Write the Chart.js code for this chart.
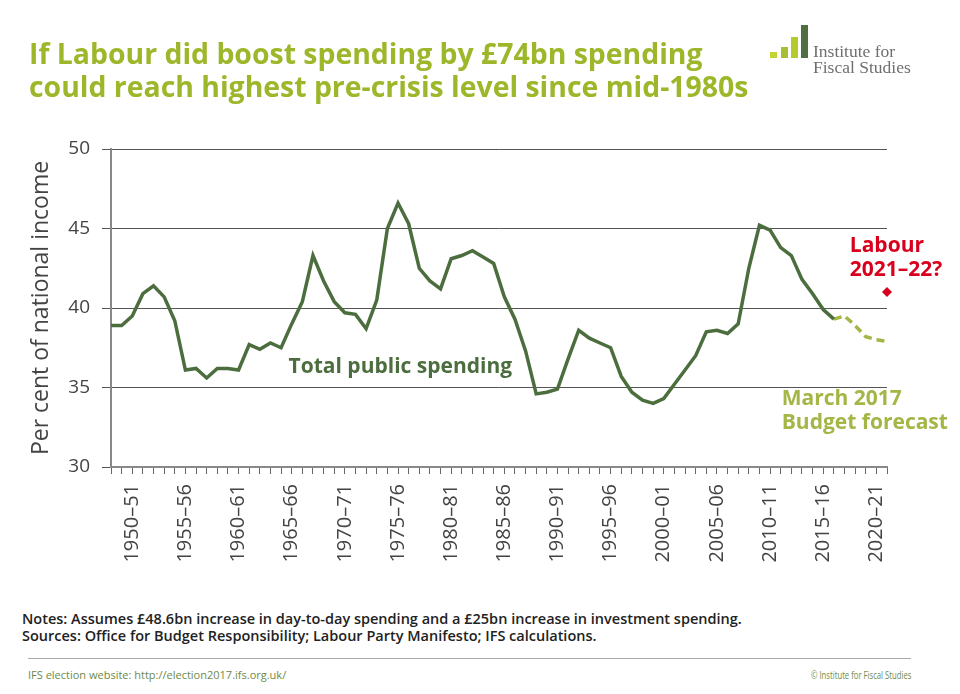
<!DOCTYPE html>
<html lang="en">
<head>
<meta charset="UTF-8">
<title>IFS - public spending</title>
<script src="https://cdn.jsdelivr.net/npm/chart.js"></script>
<style>
  body { margin: 0; background: #fff; width: 960px; height: 694px; overflow: hidden; position: relative; font-family: "Open Sans", sans-serif; }
  .title { position: absolute; left: 29px; top: 37px; color: #9cb72a; font-weight: 700; font-size: 28.4px; line-height: 33px; white-space: nowrap; }
  .logo div { position: absolute; }
  .logo .txt { left: 813px; top: 43px; font-family: "Liberation Serif", "DejaVu Serif", serif; font-size: 17.5px; line-height: 16px; color: #6f6f6f; }
  .wrap { position: absolute; left: 0; top: 0; width: 960px; height: 600px; }
  .notes { position: absolute; left: 22px; top: 610px; font-size: 14.5px; font-weight: 600; color: #222; line-height: 17px; white-space: nowrap; }
  .rule { position: absolute; left: 28px; top: 658px; width: 883px; border-top: 1px solid #aaa; }
  .foot { position: absolute; top: 667px; font-size: 11px; color: #6d8a4a; white-space: nowrap; }
</style>
</head>
<body>
<div class="wrap"><canvas id="chart"></canvas></div>

<div class="title">If Labour did boost spending by £74bn spending<br>could reach highest pre-crisis level since mid-1980s</div>

<div class="logo">
  <div style="left:770px;top:52px;width:7px;height:6px;background:#c3d332"></div>
  <div style="left:781px;top:47px;width:7px;height:11px;background:#a6bf35"></div>
  <div style="left:791px;top:37px;width:7px;height:21px;background:#b5ca2d"></div>
  <div style="left:801px;top:25px;width:7px;height:33px;background:#4f6e41"></div>
  <div class="txt">Institute for<br>Fiscal Studies</div>
</div>

<div class="notes">Notes: Assumes £48.6bn increase in day-to-day spending and a £25bn increase in investment spending.<br>Sources: Office for Budget Responsibility; Labour Party Manifesto; IFS calculations.</div>
<div class="rule"></div>
<div class="foot" style="left:28px">IFS election website: http://election2017.ifs.org.uk/</div>
<div class="foot" style="right:49px;transform:scaleX(0.7);transform-origin:right center">© Institute for Fiscal Studies</div>

<script>
// fiscal years 1948–49 .. 2021–22
const firstYear = 1948
const years = []
for (let y = firstYear; y <= 2021; y++) {
  years.push(y + '–' + String((y + 1) % 100).padStart(2, '0'))
}

// total public spending, % of national income, 1948–49 .. 2016–17
const outturn = [
  38.9, 38.9, 39.5, 40.9, 41.4, 40.7, 39.2, 36.1, 36.2, 35.6,
  36.2, 36.2, 36.1, 37.7, 37.4, 37.8, 37.5, 39.0, 40.4, 43.3,
  41.7, 40.4, 39.7, 39.6, 38.7, 40.5, 45.0, 46.6, 45.3, 42.5,
  41.7, 41.2, 43.1, 43.3, 43.6, 43.2, 42.8, 40.7, 39.3, 37.3,
  34.6, 34.7, 34.9, 36.8, 38.6, 38.1, 37.8, 37.5, 35.7, 34.7,
  34.2, 34.0, 34.3, 35.2, 36.1, 37.0, 38.5, 38.6, 38.4, 39.0,
  42.5, 45.2, 44.9, 43.8, 43.3, 41.8, 40.9, 39.9, 39.3
]
// March 2017 Budget forecast, 2016–17 .. 2021–22
const forecast = [39.3, 39.5, 38.9, 38.2, 38.0, 37.9]
// Labour 2021–22
const labour = 41.0

const yTicks = [30, 35, 40, 45, 50]

const darkGreen = '#4c6e3f'
const lightGreen = '#a3b646'
const red = '#d8001c'

const pad = n => new Array(n).fill(null)
const outturnData = outturn.concat(pad(years.length - outturn.length))
const forecastData = pad(outturn.length - 1).concat(forecast)
const labourData = pad(years.length - 1).concat([labour])

// text labels placed in data units
const notes = [
  { text: 'Total public spending', x: 16.7, y: 36.3, color: darkGreen },
  { text: 'March 2017', x: 63.1, y: 34.3, color: lightGreen },
  { text: 'Budget forecast', x: 63.1, y: 32.75, color: lightGreen },
  { text: 'Labour', x: 69.5, y: 43.9, color: red },
  { text: '2021–22?', x: 69.5, y: 42.4, color: red }
]

const textPlugin = {
  id: 'texts',
  afterDatasetsDraw(chart) {
    const ctx = chart.ctx
    const xs = chart.scales.x, ys = chart.scales.y
    ctx.save()
    ctx.font = 'bold 21px "Open Sans"'
    ctx.textAlign = 'left'
    ctx.textBaseline = 'middle'
    notes.forEach(n => {
      ctx.fillStyle = n.color
      ctx.fillText(n.text, xs.getPixelForValue(n.x), ys.getPixelForValue(n.y))
    })
    ctx.restore()
  }
}

new Chart(document.getElementById('chart'), {
  type: 'line',
  data: {
    labels: years,
    datasets: [
      { data: outturnData, borderColor: darkGreen, borderWidth: 3.5, pointRadius: 0, tension: 0 },
      { data: forecastData, borderColor: lightGreen, borderWidth: 3.5, borderDash: [8, 5], pointRadius: 0, tension: 0 },
      { data: labourData, showLine: false, pointStyle: 'rectRot', pointRadius: 5, backgroundColor: red, borderColor: red, borderWidth: 0 }
    ]
  },
  options: {
    responsive: true,
    maintainAspectRatio: false,
    animation: false,
    layout: { padding: { left: 0, top: 149, right: 73, bottom: 33 } },
    plugins: { legend: { display: false }, tooltip: { enabled: false } },
    scales: {
      x: {
        offset: false,
        afterFit: s => { s.height = 100 },
        border: { color: '#888', width: 2 },
        grid: { drawOnChartArea: false, drawTicks: true, tickLength: 7, tickColor: '#666', tickWidth: 1 },
        ticks: {
          autoSkip: false, minRotation: 90, maxRotation: 90, padding: 10,
          color: '#444', font: { family: 'Open Sans', size: 20 },
          callback: function (v, i) { return i % 5 === 2 ? this.getLabelForValue(v) : '' }
        }
      },
      y: {
        min: 30, max: 50,
        afterFit: s => { s.width = 111 },
        afterBuildTicks: s => { s.ticks = yTicks.map(v => ({ value: v })) },
        border: { color: '#888', width: 2 },
        grid: { color: '#555', lineWidth: 1, borderDash: [14, 3], tickLength: 9, tickColor: '#555', tickBorderDash: [] },
        ticks: { padding: 12, color: '#444', font: { family: 'Open Sans', size: 19 } },
        title: {
          display: true, text: 'Per cent of national income', color: '#444',
          font: { family: 'Open Sans', size: 23 }, padding: { top: 28, bottom: 0 }
        }
      }
    }
  },
  plugins: [textPlugin]
})
</script>
</body>
</html>
